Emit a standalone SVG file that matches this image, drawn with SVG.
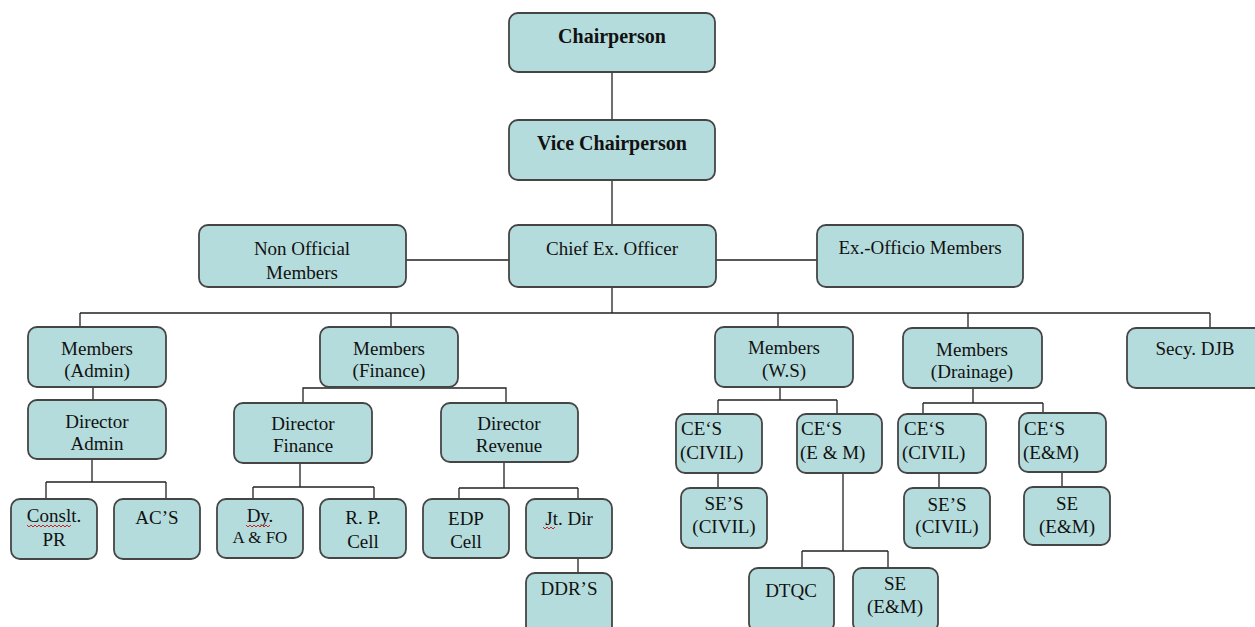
<svg xmlns="http://www.w3.org/2000/svg" width="1255" height="627" viewBox="0 0 1255 627">
<style>
.box{fill:#b5dcdc;stroke:#454545;stroke-width:1.8}
.t{font-family:"Liberation Serif","Times New Roman",serif;font-size:19px;fill:#111;text-anchor:middle}
.l{text-anchor:start}
.b{font-weight:bold;font-size:20px}
.c{fill:none;stroke:#222;stroke-width:1.3}
.sq{fill:none;stroke:#d02020;stroke-width:1}
</style>
<rect width="1255" height="627" fill="#ffffff"/>
<g id="connectors">
<path class="c" d="M612 72V120M612 180V225M406 260H509M716 260H817M612 287V313M80 313H1210M80 313V327M391 313V327M778 313V327M968 313V327M1210 313V328"/>
<path class="c" d="M93 387V400M92 459V482M46 482H166M46 482V499M166 482V499"/>
<path class="c" d="M303 403V388H506V403M300 463V487M253 487H374M253 487V499M374 487V499M504 462V488M459 488H578M459 488V499M578 488V499M578 558V573"/>
<path class="c" d="M780 387V400M718 400H837M718 400V414M837 400V414M718 473V488M843 473V551M802 551H888M802 551V568M888 551V568"/>
<path class="c" d="M973 388V403M923 403H1043M923 403V414M1043 403V413M939 473V488M1062 472V487"/>
</g>
<g id="chairperson"><rect class="box" x="509" y="13" width="206" height="59" rx="9"/><text class="t b" x="612" y="43">Chairperson</text></g>
<g id="vice-chairperson"><rect class="box" x="509" y="120" width="206" height="60" rx="9"/><text class="t b" x="612" y="150">Vice Chairperson</text></g>
<g id="non-official"><rect class="box" x="199" y="225" width="207" height="62" rx="9"/><text class="t" x="302" y="255">Non Official</text><text class="t" x="302" y="279">Members</text></g>
<g id="ceo"><rect class="box" x="509" y="225" width="207" height="62" rx="9"/><text class="t" x="612" y="255">Chief Ex. Officer</text></g>
<g id="ex-officio"><rect class="box" x="817" y="225" width="206" height="62" rx="9"/><text class="t" x="920" y="254">Ex.-Officio Members</text></g>
<g id="members-admin"><rect class="box" x="28" y="327" width="138" height="60" rx="9"/><text class="t" x="97" y="355">Members</text><text class="t" x="97" y="377">(Admin)</text></g>
<g id="director-admin"><rect class="box" x="28" y="400" width="138" height="59" rx="9"/><text class="t" x="97" y="428">Director</text><text class="t" x="97" y="450">Admin</text></g>
<g id="conslt-pr"><rect class="box" x="11" y="499" width="86" height="60" rx="9"/><text class="t" x="54" y="522">Conslt.</text><path class="sq" d="M27 525l2 2 2-2 2 2 2-2 2 2 2-2 2 2 2-2 2 2 2-2 2 2 2-2 2 2 2-2 2 2 2-2 2 2 2-2 2 2 2-2 2 2 2-2"/><text class="t" x="54" y="546">PR</text></g>
<g id="acs"><rect class="box" x="114" y="499" width="86" height="60" rx="9"/><text class="t" x="157" y="524">AC’S</text></g>
<g id="members-finance"><rect class="box" x="320" y="327" width="138" height="60" rx="9"/><text class="t" x="389" y="355">Members</text><text class="t" x="389" y="377">(Finance)</text></g>
<g id="director-finance"><rect class="box" x="234" y="403" width="138" height="60" rx="9"/><text class="t" x="303" y="430">Director</text><text class="t" x="303" y="452">Finance</text></g>
<g id="director-revenue"><rect class="box" x="441" y="403" width="137" height="59" rx="9"/><text class="t" x="509" y="430">Director</text><text class="t" x="509" y="452">Revenue</text></g>
<g id="dy-afo"><rect class="box" x="217" y="499" width="86" height="59" rx="9"/><text class="t" x="260" y="522">Dy.</text><path class="sq" d="M246 525l2 2 2-2 2 2 2-2 2 2 2-2 2 2 2-2 2 2 2-2 2 2 2-2"/><text class="t" x="260" y="543" style="font-size:17px">A &amp; FO</text></g>
<g id="rp-cell"><rect class="box" x="320" y="499" width="86" height="59" rx="9"/><text class="t" x="363" y="524">R. P.</text><text class="t" x="363" y="548">Cell</text></g>
<g id="edp-cell"><rect class="box" x="423" y="499" width="86" height="59" rx="9"/><text class="t" x="466" y="525">EDP</text><text class="t" x="466" y="548">Cell</text></g>
<g id="jt-dir"><rect class="box" x="526" y="499" width="86" height="59" rx="9"/><text class="t" x="569" y="525">Jt. Dir</text><path class="sq" d="M543 527l2 2 2-2 2 2 2-2 2 2 2-2"/></g>
<g id="ddrs"><rect class="box" x="526" y="573" width="86" height="62" rx="9"/><text class="t" x="569" y="595">DDR’S</text></g>
<g id="members-ws"><rect class="box" x="715" y="327" width="138" height="60" rx="9"/><text class="t" x="784" y="354">Members</text><text class="t" x="784" y="377">(W.S)</text></g>
<g id="ces-civil-ws"><rect class="box" x="676" y="414" width="86" height="59" rx="9"/><text class="t l" x="681" y="435">CE‘S</text><text class="t l" x="680" y="459">(CIVIL)</text></g>
<g id="ces-em-ws"><rect class="box" x="797" y="414" width="85" height="59" rx="9"/><text class="t l" x="801" y="435">CE‘S</text><text class="t l" x="800" y="459">(E &amp; M)</text></g>
<g id="ses-civil-ws"><rect class="box" x="681" y="488" width="86" height="60" rx="9"/><text class="t" x="724" y="510">SE’S</text><text class="t" x="724" y="533">(CIVIL)</text></g>
<g id="dtqc"><rect class="box" x="749" y="568" width="85" height="64" rx="9"/><text class="t" x="791" y="597">DTQC</text></g>
<g id="se-em-ws"><rect class="box" x="853" y="568" width="85" height="64" rx="9"/><text class="t" x="895" y="590">SE</text><text class="t" x="895" y="613">(E&amp;M)</text></g>
<g id="members-drainage"><rect class="box" x="903" y="328" width="139" height="60" rx="9"/><text class="t" x="972" y="356">Members</text><text class="t" x="972" y="378">(Drainage)</text></g>
<g id="ces-civil-dr"><rect class="box" x="898" y="414" width="88" height="59" rx="9"/><text class="t l" x="904" y="435">CE‘S</text><text class="t l" x="902" y="459">(CIVIL)</text></g>
<g id="ces-em-dr"><rect class="box" x="1019" y="413" width="87" height="59" rx="9"/><text class="t l" x="1024" y="435">CE‘S</text><text class="t l" x="1023" y="459">(E&amp;M)</text></g>
<g id="ses-civil-dr"><rect class="box" x="904" y="488" width="86" height="60" rx="9"/><text class="t" x="947" y="511">SE’S</text><text class="t" x="947" y="533">(CIVIL)</text></g>
<g id="se-em-dr"><rect class="box" x="1024" y="487" width="86" height="58" rx="9"/><text class="t" x="1067" y="510">SE</text><text class="t" x="1067" y="533">(E&amp;M)</text></g>
<g id="secy-djb"><rect class="box" x="1127" y="328" width="140" height="60" rx="9"/><text class="t" x="1195" y="355">Secy. DJB</text></g>
</svg>
